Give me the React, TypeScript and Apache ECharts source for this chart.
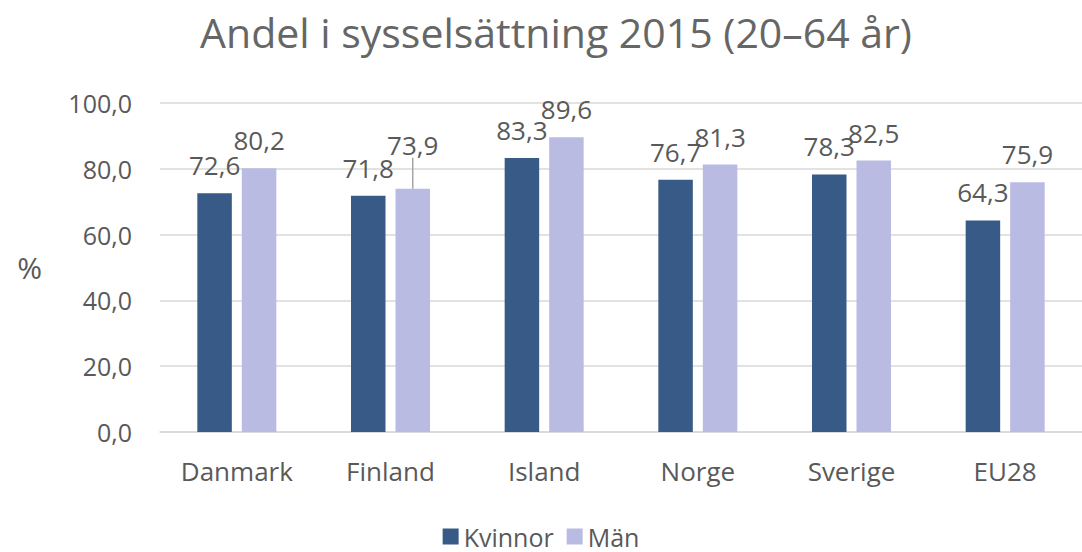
import React, { useEffect, useRef } from "react";
import * as echarts from "echarts";

const categories = ["Danmark", "Finland", "Island", "Norge", "Sverige", "EU28"];
const kvinnor = [72.6, 71.8, 83.3, 76.7, 78.3, 64.3];
const man = [80.2, 73.9, 89.6, 81.3, 82.5, 75.9];
const seriesNames = ["Kvinnor", "Män"];
const titleText = "Andel i sysselsättning 2015 (20–64 år)";

const FONT = "'Open Sans', sans-serif";
const TEXT = "#595959";
const fmt = (v: number) => v.toFixed(1).replace(".", ",");

export default function App() {
  const ref = useRef<HTMLDivElement>(null);
  useEffect(() => {
    if (!ref.current) return;
    const chart = echarts.init(ref.current, undefined, { renderer: "svg" });
    const label = {
      show: true,
      position: "top",
      distance: 15,
      fontSize: 26,
      fontFamily: FONT,
      color: TEXT,
      formatter: (p: any) => fmt(p.value),
    };
    chart.setOption({
      animation: false,
      textStyle: { fontFamily: FONT },
      title: {
        text: titleText,
        left: 551,
        textAlign: "center",
        top: 6,
        textStyle: { fontSize: 41, fontWeight: "normal", color: "#666666", fontFamily: FONT },
      },
      legend: {
        data: seriesNames,
        left: "center",
        top: 524,
        padding: 0,
        itemWidth: 16,
        itemHeight: 16,
        itemGap: 13,
        icon: "rect",
        textStyle: { fontSize: 25, lineHeight: 25, color: TEXT, fontFamily: FONT },
      },
      grid: { left: 160, top: 103, width: 936, height: 329, containLabel: false },
      xAxis: {
        type: "category",
        data: categories,
        axisLine: { show: true, lineStyle: { color: "#D9D9D9", width: 1.5 } },
        axisTick: { show: false },
        axisLabel: { fontSize: 26, color: TEXT, fontFamily: FONT, margin: 26 },
      },
      yAxis: {
        type: "value",
        min: 0,
        max: 100,
        interval: 20,
        name: "%",
        nameLocation: "middle",
        nameRotate: 0,
        nameGap: 118,
        nameTextStyle: { fontSize: 30, color: TEXT, fontFamily: FONT },
        axisLine: { show: false },
        axisTick: { show: false },
        splitLine: { lineStyle: { color: "#D9D9D9", width: 1.5 } },
        axisLabel: { fontSize: 25, color: TEXT, fontFamily: FONT, margin: 28, formatter: (v: number) => fmt(v) },
      },
      series: [
        {
          name: seriesNames[0],
          type: "bar",
          data: kvinnor,
          barWidth: 34.5,
          barGap: "29%",
          itemStyle: { color: "#375A87" },
          label,
        },
        {
          name: seriesNames[1],
          type: "bar",
          data: man.map((v, i) => (i === 1 ? { value: v, labelLine: { show: true } } : v)),
          barWidth: 34.5,
          barGap: "29%",
          itemStyle: { color: "#BABBE2" },
          label,
          labelLine: { show: false, lineStyle: { color: "#A6A6A6", width: 1.5 } },
          labelLayout: (p: any) => (p.dataIndex === 1 ? { dy: -16 } : {}),
        },
      ],
    });
    return () => chart.dispose();
  }, []);
  return (
    <div
      ref={ref}
      style={{ position: "absolute", left: 0, top: 0, width: 1082, height: 552, background: "#ffffff" }}
    />
  );
}
